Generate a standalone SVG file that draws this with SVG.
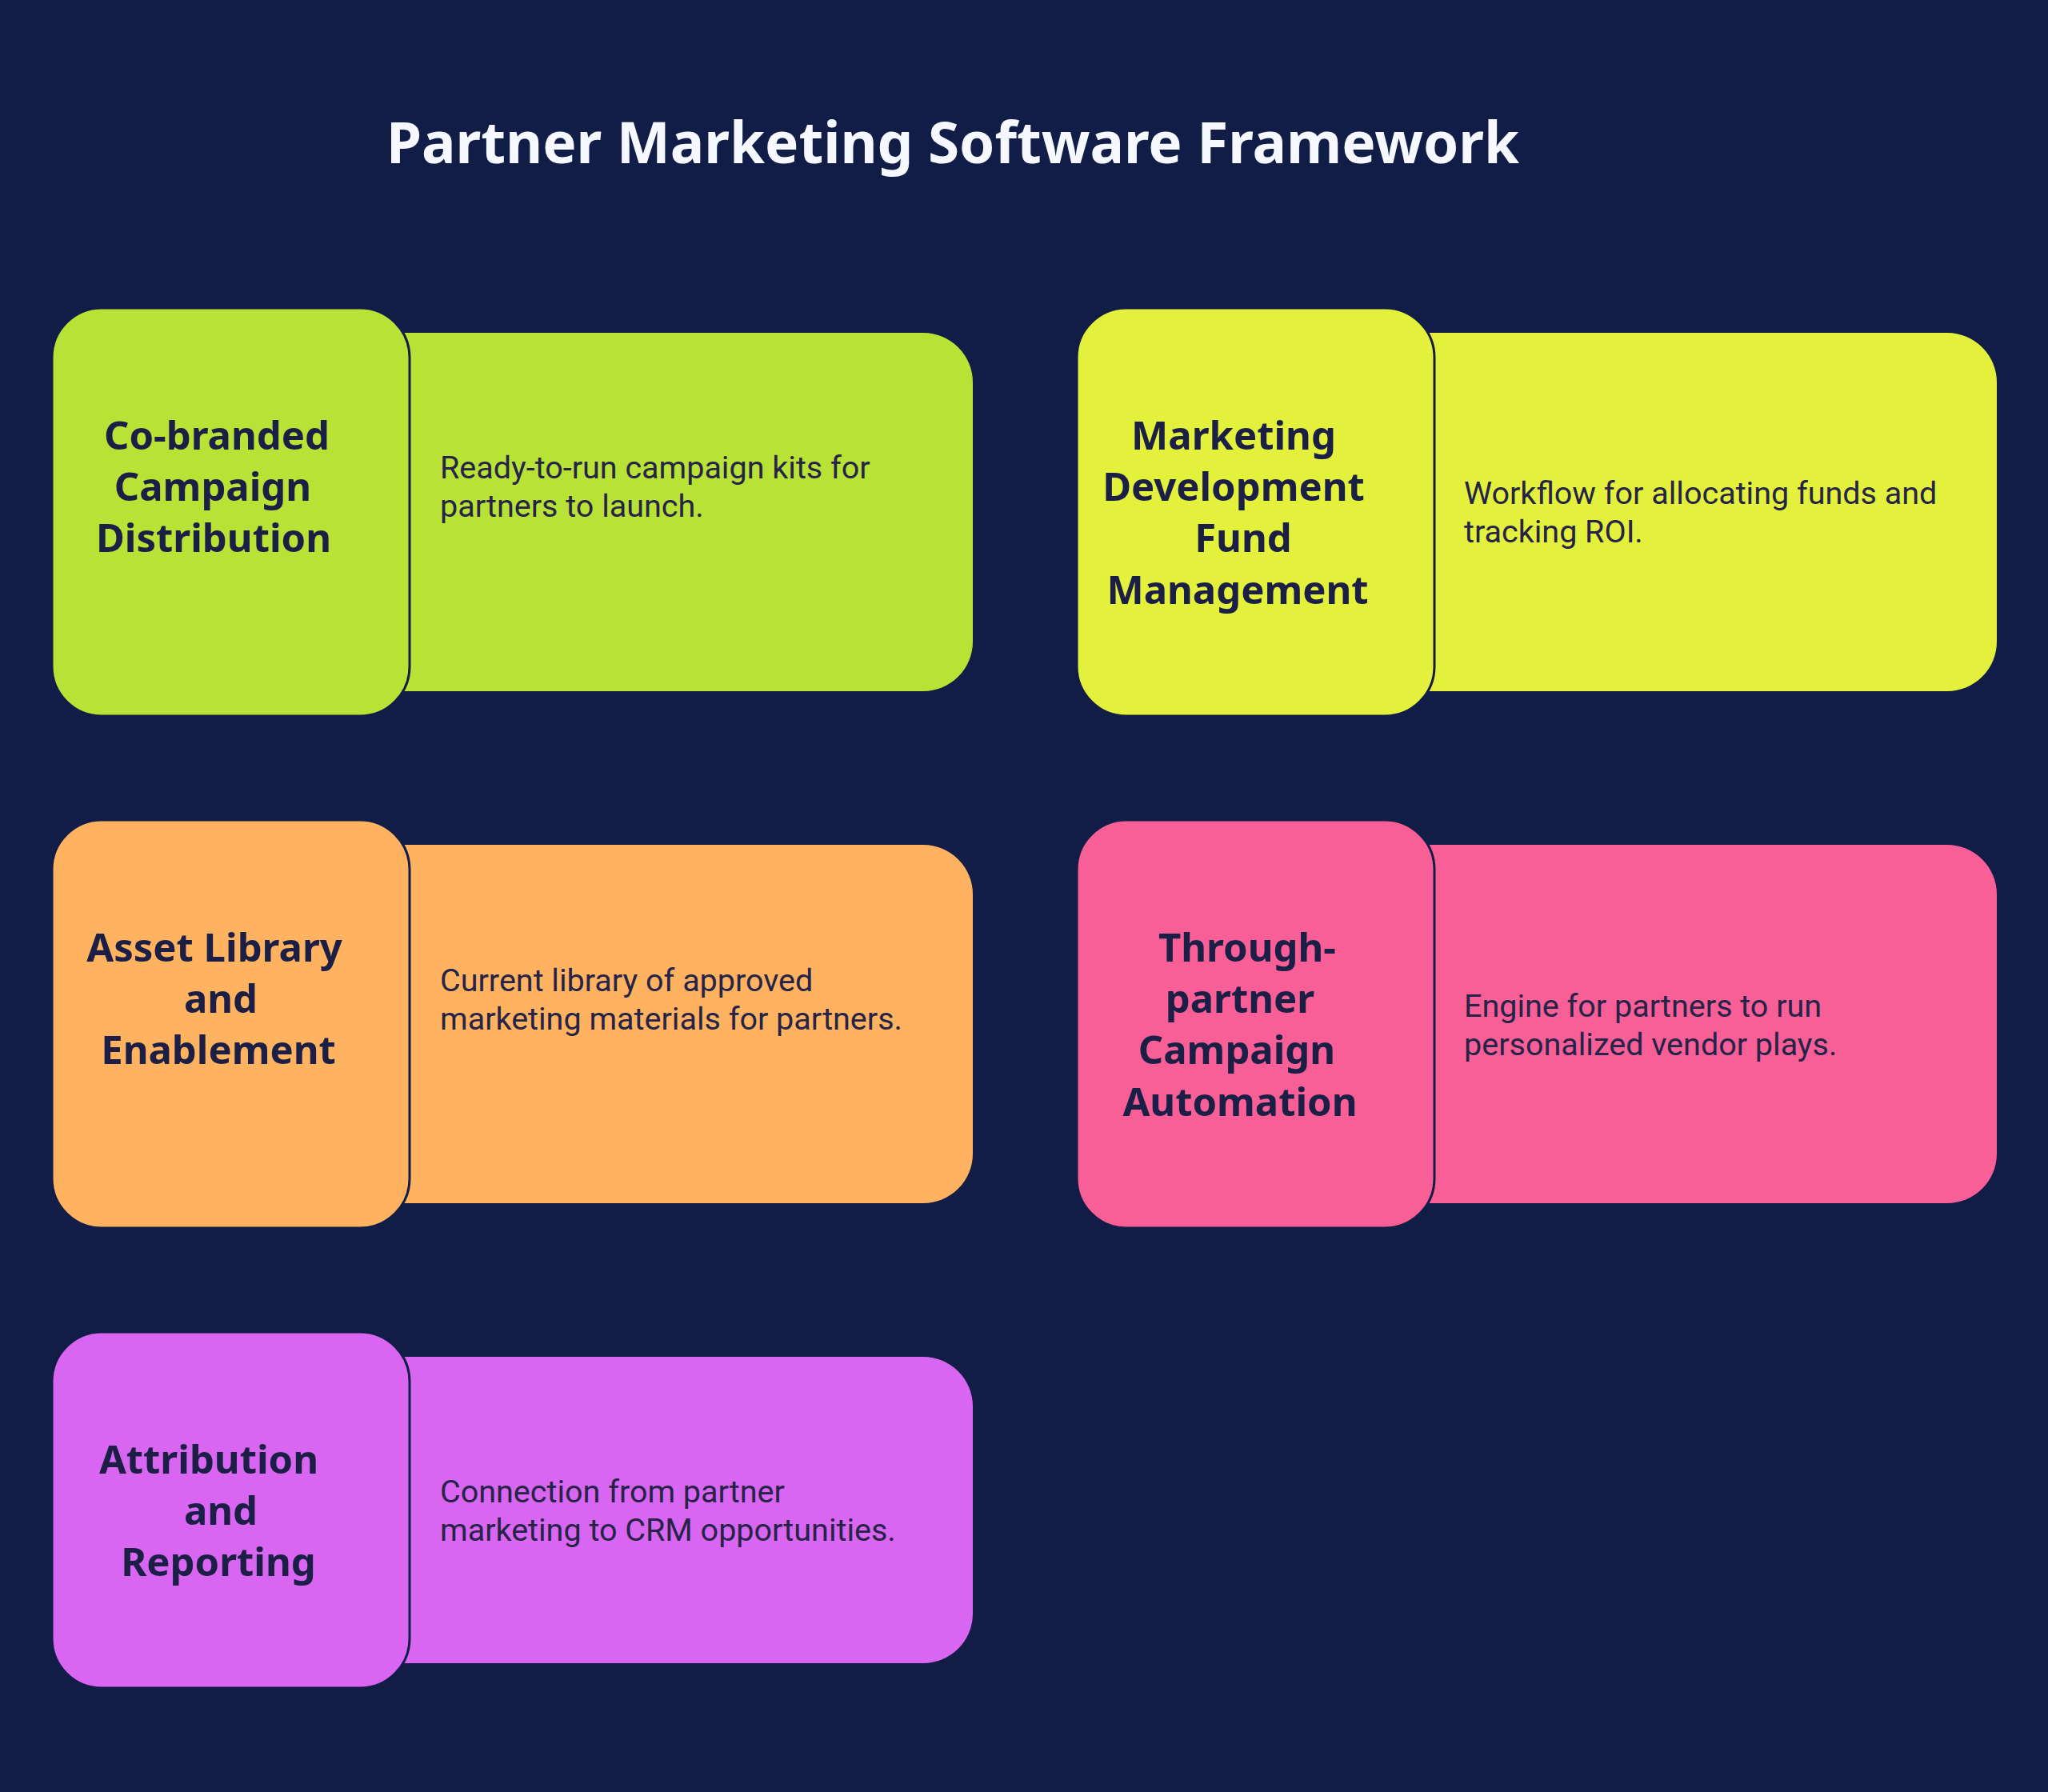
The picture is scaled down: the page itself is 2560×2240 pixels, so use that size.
<svg xmlns="http://www.w3.org/2000/svg" width="2560" height="2240" viewBox="0 0 2560 2240">
<style>
.bg{fill:#121D47}
.title{font-family:"Noto Sans","DejaVu Sans",sans-serif;font-weight:700;font-size:71px;fill:#F5F8FF;text-anchor:middle}
.head{font-family:"Noto Sans","DejaVu Sans",sans-serif;font-weight:700;font-size:49px;fill:#1B1F45;text-anchor:middle}
.desc{font-family:Roboto,"Liberation Sans",sans-serif;font-size:39.5px;fill:#252347}
.tab{stroke:#121D47;stroke-width:3}
.green{fill:#B8E336}
.yellow{fill:#E3F03C}
.orange{fill:#FFB25F}
.pink{fill:#F75F96}
.purple{fill:#D966F0}
</style>
<rect class="bg" x="0" y="0" width="2560" height="2240"/>
<text class="title" x="1191" y="204">Partner Marketing Software Framework</text>

<g id="node-cobranded">
<rect class="green" x="420" y="416" width="796" height="448" rx="62"/>
<rect class="green tab" x="65" y="385" width="447" height="510" rx="62"/>
<text class="head"><tspan x="271" y="562">Co-branded</tspan><tspan x="266" y="626">Campaign</tspan><tspan x="267" y="690">Distribution</tspan></text>
<text class="desc"><tspan x="550" y="598">Ready-to-run campaign kits for</tspan><tspan x="550" y="646">partners to launch.</tspan></text>
</g>

<g id="node-mdf">
<rect class="yellow" x="1700" y="416" width="796" height="448" rx="62"/>
<rect class="yellow tab" x="1346" y="385" width="447" height="510" rx="62"/>
<text class="head"><tspan x="1542" y="562">Marketing</tspan><tspan x="1542" y="626">Development</tspan><tspan x="1554" y="690">Fund</tspan><tspan x="1547" y="755">Management</tspan></text>
<text class="desc"><tspan x="1830" y="630">Workflow for allocating funds and</tspan><tspan x="1830" y="678">tracking ROI.</tspan></text>
</g>

<g id="node-asset">
<rect class="orange" x="420" y="1056" width="796" height="448" rx="62"/>
<rect class="orange tab" x="65" y="1025" width="447" height="510" rx="62"/>
<text class="head"><tspan x="268" y="1202">Asset Library</tspan><tspan x="276" y="1266">and</tspan><tspan x="273" y="1330">Enablement</tspan></text>
<text class="desc"><tspan x="550" y="1239">Current library of approved</tspan><tspan x="550" y="1287">marketing materials for partners.</tspan></text>
</g>

<g id="node-through">
<rect class="pink" x="1700" y="1056" width="796" height="448" rx="62"/>
<rect class="pink tab" x="1346" y="1025" width="447" height="510" rx="62"/>
<text class="head"><tspan x="1559" y="1202">Through-</tspan><tspan x="1550" y="1266">partner</tspan><tspan x="1546" y="1330">Campaign</tspan><tspan x="1550" y="1395">Automation</tspan></text>
<text class="desc"><tspan x="1830" y="1271">Engine for partners to run</tspan><tspan x="1830" y="1319">personalized vendor plays.</tspan></text>
</g>

<g id="node-attribution">
<rect class="purple" x="420" y="1696" width="796" height="383" rx="62"/>
<rect class="purple tab" x="65" y="1665" width="447" height="445" rx="62"/>
<text class="head"><tspan x="261" y="1842">Attribution</tspan><tspan x="276" y="1906">and</tspan><tspan x="273" y="1970">Reporting</tspan></text>
<text class="desc"><tspan x="550" y="1878">Connection from partner</tspan><tspan x="550" y="1926">marketing to CRM opportunities.</tspan></text>
</g>

<g id="connectors"></g>
</svg>
